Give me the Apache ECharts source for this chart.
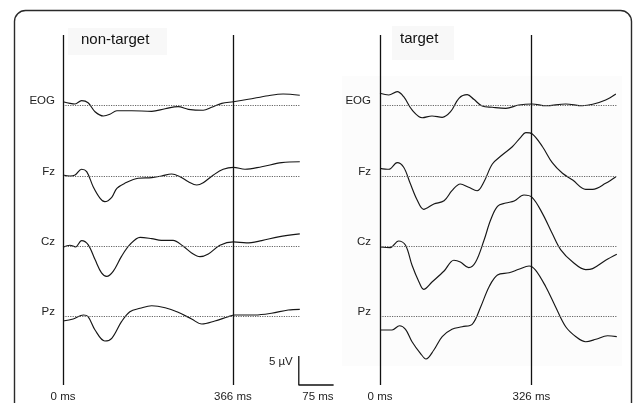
<!DOCTYPE html>
<html><head><meta charset="utf-8">
<script src="https://cdn.jsdelivr.net/npm/echarts@6/dist/echarts.min.js"></script>
<style>html,body{margin:0;padding:0;background:#fff}#c{width:633px;height:403px}</style>
</head><body><div id="c"></div>
<script>
// ---------- data (time in ms, amplitude in µV) ----------
const channels = ['EOG', 'Fz', 'Cz', 'Pz'];
const panelTitles = ['non-target', 'target'];
const eventTimes = [366, 326];
const scaleBarMs = 75;
const scaleBarUv = 5;

const ntEOG = [[0,0.55],[15,0.28],[26,0.17],[40,0.72],[54,0.38],[69,-1.12],[87,-1.83],[101,-1.55],[116,-0.95],[148,-0.95],[191,-1.05],[220,-0.62],[248,-0.28],[270,-0.72],[302,-0.88],[320,-0.38],[342,0.28],[367,0.55],[399,0.95],[442,1.55],[474,1.83],[510,1.62]];
const ntFz = [[0,0.17],[15,0],[26,0.17],[40,1.12],[51,0.72],[65,-1.78],[80,-3.72],[90,-4.28],[105,-3.55],[116,-2.05],[133,-1.22],[162,-0.38],[191,-0.28],[212,0],[234,0.33],[252,-0.12],[270,-0.95],[288,-1.5],[302,-1.12],[324,0.17],[345,1.12],[367,1.45],[392,1.12],[428,1.55],[471,2.22],[510,2.38]];
const ntCz = [[0,-0.17],[15,0.17],[27,-0.1],[40,0.95],[54,0.28],[69,-2.22],[83,-4.43],[94,-5.0],[108,-4.17],[126,-1.67],[144,0.28],[166,1.5],[191,1.28],[212,1.0],[237,1.0],[259,0],[277,-1.1],[295,-1.72],[313,-1.27],[338,0.17],[367,0.73],[395,0.57],[428,0.95],[464,1.57],[510,2.07]];
const ntPz = [[0,-0.72],[22,-0.38],[44,0.28],[54,0],[69,-2.22],[90,-4.05],[105,-3.6],[126,-0.83],[144,0.83],[166,1.4],[191,1.83],[220,1.5],[248,0.73],[277,-0.38],[299,-1.22],[327,-0.72],[356,0],[370,0.28],[413,0.28],[449,0.57],[485,1.12],[510,1.23]];

const tEOG = [[0,1.95],[19,1.67],[37,2.22],[51,1.38],[69,-0.83],[91,-2.12],[112,-1.83],[134,-2.05],[152,-1.12],[170,1.12],[188,1.72],[202,0.95],[220,-0.17],[242,-0.38],[271,-0.55],[299,0],[328,0.17],[357,-0.12],[400,0.17],[436,-0.12],[458,0.12],[486,0.83],[508,1.83]];
const tFz = [[0,1.28],[19,1.12],[37,2.22],[51,1.45],[65,-1.22],[80,-4.0],[94,-5.55],[116,-4.67],[138,-4.12],[155,-2.45],[173,-1.33],[191,-1.88],[209,-2.45],[224,-0.95],[242,2.0],[263,3.5],[285,4.88],[303,6.45],[314,7.22],[328,7.0],[350,4.88],[371,2.22],[393,0.45],[415,-0.67],[443,-2.22],[458,-2.22],[486,-1.22],[508,-0.12]];
const tCz = [[0,-0.12],[22,-0.22],[40,0.88],[55,0.17],[69,-3.17],[84,-5.95],[94,-7.17],[112,-5.95],[138,-4.12],[159,-2.33],[173,-2.62],[191,-3.55],[206,-2.62],[224,1.0],[238,4.33],[253,6.67],[271,7.22],[289,7.55],[310,8.55],[328,8.12],[350,5.45],[371,2.12],[389,-0.55],[415,-2.62],[443,-3.88],[458,-3.72],[486,-2.33],[510,-1.33]];
const tPz = [[0,-2.22],[26,-2.22],[42,-1.5],[55,-2.1],[69,-4.17],[87,-6.1],[99,-7.05],[116,-5.55],[134,-3.33],[155,-2.1],[177,-1.67],[199,-1.22],[217,1.67],[235,5.0],[253,6.95],[278,7.33],[299,7.9],[321,8.45],[335,7.78],[357,5.0],[378,1.67],[400,-1.67],[422,-3.33],[443,-4.17],[465,-3.77],[490,-3.17],[510,-3.33]];

const panelData = [[ntEOG, ntFz, ntCz, ntPz], [tEOG, tFz, tCz, tPz]];

// ---------- layout ----------
const FONT = '"Liberation Sans", Arial, Helvetica, sans-serif';
const pxPerMs = 0.4643;
const pxPerUv = 6;
const maxMs = 510;
const yHalf = 9;
const panelLeft = [63, 380];
const baselines = [105, 176, 246.3, 316.7];
const panelTop = 35, panelBottom = 386;
const ink = '#161616';

const grid = [], xAxis = [], yAxis = [], series = [];
function addGrid(g, xa, ya) {
  grid.push(g);
  const i = grid.length - 1;
  xa.gridIndex = i; ya.gridIndex = i;
  xAxis.push(xa); yAxis.push(ya);
  return i;
}
const hiddenAxisBits = {axisLine:{show:false}, axisTick:{show:false}, splitLine:{show:false}};

for (let p = 0; p < 2; p++) {
  for (let c = 0; c < 4; c++) {
    const gi = addGrid(
      {left: panelLeft[p], top: baselines[c] - yHalf * pxPerUv, width: maxMs * pxPerMs, height: 2 * yHalf * pxPerUv},
      Object.assign({type:'value', min:0, max:maxMs, axisLabel:{show:false}}, hiddenAxisBits),
      Object.assign({type:'value', min:-yHalf, max:yHalf,
        axisLabel:{show:true, customValues:[0], formatter: () => channels[c], margin: p === 0 ? 8 : 9,
          verticalAlign:'bottom', lineHeight: 9, fontSize: 11.5, color:'#222', fontFamily: FONT}}, hiddenAxisBits)
    );
    series.push({
      type:'line', xAxisIndex: gi, yAxisIndex: gi, data: panelData[p][c],
      symbol:'none', smooth: 0.35, clip:false, silent:true,
      lineStyle:{color: ink, width: 1.15},
      markLine:{silent:true, symbol:'none', label:{show:false}, animation:false,
        lineStyle:{type:[1.2, 1.2], color:'#666', width:1}, data:[{yAxis:0}]}
    });
  }
  const gv = addGrid(
    {left: panelLeft[p], top: panelTop, width: maxMs * pxPerMs, height: panelBottom - panelTop},
    Object.assign({type:'value', min:0, max:maxMs,
      axisLabel:{show:true, customValues:[0, eventTimes[p]], formatter: v => v + ' ms', margin: 6,
        fontSize: 11.5, color:'#222', fontFamily: FONT}}, hiddenAxisBits),
    Object.assign({type:'value', min:0, max:1, axisLabel:{show:false}}, hiddenAxisBits)
  );
  series.push({
    type:'line', xAxisIndex: gv, yAxisIndex: gv, data: [], symbol:'none', silent:true,
    markLine:{silent:true, symbol:'none', label:{show:false}, animation:false,
      lineStyle:{type:'solid', color:'#111', width:1.3},
      data:[{xAxis:0}, {xAxis:eventTimes[p]}]}
  });
}

// scale bar (75 ms x 5 µV)
const gs = addGrid(
  {left: panelLeft[0] + maxMs * pxPerMs - 1, top: panelBottom - scaleBarUv * pxPerUv, width: scaleBarMs * pxPerMs, height: scaleBarUv * pxPerUv},
  Object.assign({type:'value', min:0, max:scaleBarMs,
    axisLabel:{show:true, customValues:[scaleBarMs], formatter: v => v + ' ms', align:'right', margin:6,
      fontSize:11.5, color:'#222', fontFamily: FONT}}, hiddenAxisBits),
  Object.assign({type:'value', min:0, max:scaleBarUv,
    axisLabel:{show:true, customValues:[scaleBarUv], formatter: v => v + ' µV', verticalAlign:'top', margin:6,
      fontSize:11.5, color:'#222', fontFamily: FONT}}, hiddenAxisBits)
);
series.push({
  type:'line', xAxisIndex: gs, yAxisIndex: gs, symbol:'none', silent:true, clip:false,
  data: [[0, scaleBarUv], [0, 0], [scaleBarMs, 0]],
  lineStyle:{color:'#111', width:1.3}
});

const option = {
  animation: false,
  backgroundColor: '#ffffff',
  title: [
    {text: panelTitles[0], left: 81, top: 32, padding: 0, textStyle:{fontSize:15, fontWeight:'normal', color:'#111', fontFamily: FONT}},
    {text: panelTitles[1], left: 400, top: 31, padding: 0, textStyle:{fontSize:15, fontWeight:'normal', color:'#111', fontFamily: FONT}}
  ],
  graphic: [
    {type:'rect', z:-10, silent:true, shape:{x:342, y:76, width:280, height:290}, style:{fill:'#fcfcfc'}},
    {type:'rect', z:-10, silent:true, shape:{x:68, y:28, width:99, height:27}, style:{fill:'#f8f8f8'}},
    {type:'rect', z:-10, silent:true, shape:{x:392, y:26, width:62, height:34}, style:{fill:'#f8f8f8'}},
    {type:'rect', z:10, silent:true, shape:{x:14.5, y:10.5, width:617, height:440, r:11}, style:{fill:'transparent', stroke:'#2a2a2a', lineWidth:1.4}}
  ],
  grid, xAxis, yAxis, series
};

const chart = echarts.init(document.getElementById('c'), null, {renderer:'canvas'});
chart.setOption(option);
</script>
</body></html>
